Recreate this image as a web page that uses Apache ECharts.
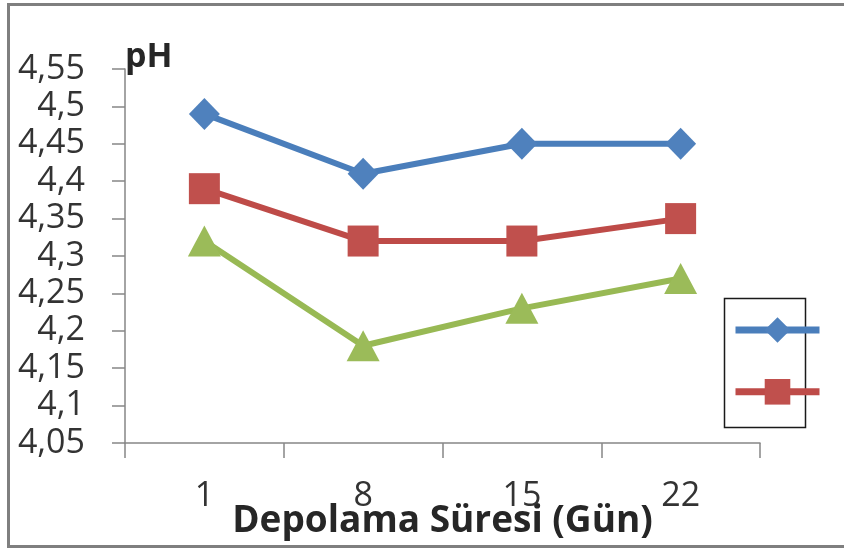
<!DOCTYPE html>
<html>
<head>
<meta charset="utf-8">
<script src="https://cdn.jsdelivr.net/npm/echarts@6/dist/echarts.min.js"></script>
<style>
  html, body { margin: 0; padding: 0; background: #fff; }
  #chart { width: 844px; height: 549px; }
</style>
</head>
<body>
<div id="chart"></div>
<script>
// Storage days (Depolama Süresi)
const days = ['1', '8', '15', '22'];
// pH readings per series
const series1 = [4.49, 4.41, 4.45, 4.45];
const series2 = [4.39, 4.32, 4.32, 4.35];
const series3 = [4.32, 4.18, 4.23, 4.27];
const seriesNames = ['Seri 1', 'Seri 2', 'Seri 3'];
// y axis range
const yMin = 4.05, yMax = 4.55, yStep = 0.05;

const FONT = '"Open Sans", "Liberation Sans", sans-serif';
const AXIS_GREY = '#868686';

const chart = echarts.init(document.getElementById('chart'), null, { renderer: 'canvas' });

function fmt(v) {
  return String(parseFloat(v.toFixed(2))).replace('.', ',');
}

chart.setOption({
  animation: false,
  backgroundColor: '#ffffff',
  grid: { left: 125, right: 84, top: 69, bottom: 106, containLabel: false, outerBoundsMode: 'none' },
  graphic: [
    { // outer chart frame
      type: 'rect', z: 0, silent: true,
      shape: { x: 8.5, y: 4.5, width: 900, height: 542 },
      style: { fill: 'none', stroke: '#7f7f7f', lineWidth: 3 }
    },
    { // legend frame
      type: 'rect', z: 0, silent: true,
      shape: { x: 724.5, y: 298.5, width: 81, height: 129 },
      style: { fill: '#ffffff', stroke: '#1a1a1a', lineWidth: 1.5 }
    }
  ],
  legend: {
    show: true,
    orient: 'vertical',
    left: 732,
    top: 314,
    itemWidth: 84,
    itemHeight: 32,
    itemGap: 33,
    padding: 0,
    data: [seriesNames[0], seriesNames[1]],
    formatter: () => '',
    textStyle: { fontSize: 1 },
    lineStyle: { width: 7 },
    z: 10
  },
  xAxis: {
    type: 'category',
    data: days,
    boundaryGap: true,
    name: 'Depolama Süresi (Gün)',
    nameLocation: 'middle',
    nameGap: 60,
    nameMoveOverlap: false,
    nameTextStyle: { fontFamily: FONT, fontSize: 37, fontWeight: 'bold', color: '#262626' },
    axisLine: { lineStyle: { color: AXIS_GREY, width: 1.5 } },
    axisTick: { show: true, length: 15, alignWithLabel: false, lineStyle: { color: AXIS_GREY, width: 1.5 } },
    axisLabel: { fontFamily: FONT, fontSize: 34, color: '#333333', margin: 36 },
    splitLine: { show: false }
  },
  yAxis: {
    type: 'value',
    min: yMin,
    max: yMax,
    interval: yStep,
    name: 'pH',
    nameLocation: 'end',
    nameGap: 12,
    nameMoveOverlap: false,
    nameTextStyle: { fontFamily: FONT, fontSize: 34, fontWeight: 'bold', color: '#262626', align: 'left', verticalAlign: 'middle' },
    axisLine: { show: true, lineStyle: { color: AXIS_GREY, width: 1.5 } },
    axisTick: { show: true, length: 13, lineStyle: { color: AXIS_GREY, width: 1.5 } },
    axisLabel: { fontFamily: FONT, fontSize: 34, color: '#333333', margin: 40, formatter: fmt },
    splitLine: { show: false }
  },
  series: [
    {
      name: seriesNames[0], type: 'line', data: series1,
      symbol: 'diamond', symbolSize: [31, 32],
      lineStyle: { color: '#4A7EBB', width: 6 },
      itemStyle: { color: '#4F81BD' },
      z: 3
    },
    {
      name: seriesNames[1], type: 'line', data: series2,
      symbol: 'rect', symbolSize: [31, 31],
      lineStyle: { color: '#BE4B48', width: 6 },
      itemStyle: { color: '#C0504D' },
      z: 3
    },
    {
      name: seriesNames[2], type: 'line', data: series3,
      symbol: 'triangle', symbolSize: [33, 31],
      lineStyle: { color: '#98B954', width: 6 },
      itemStyle: { color: '#9BBB59' },
      z: 3
    }
  ]
});
</script>
</body>
</html>
